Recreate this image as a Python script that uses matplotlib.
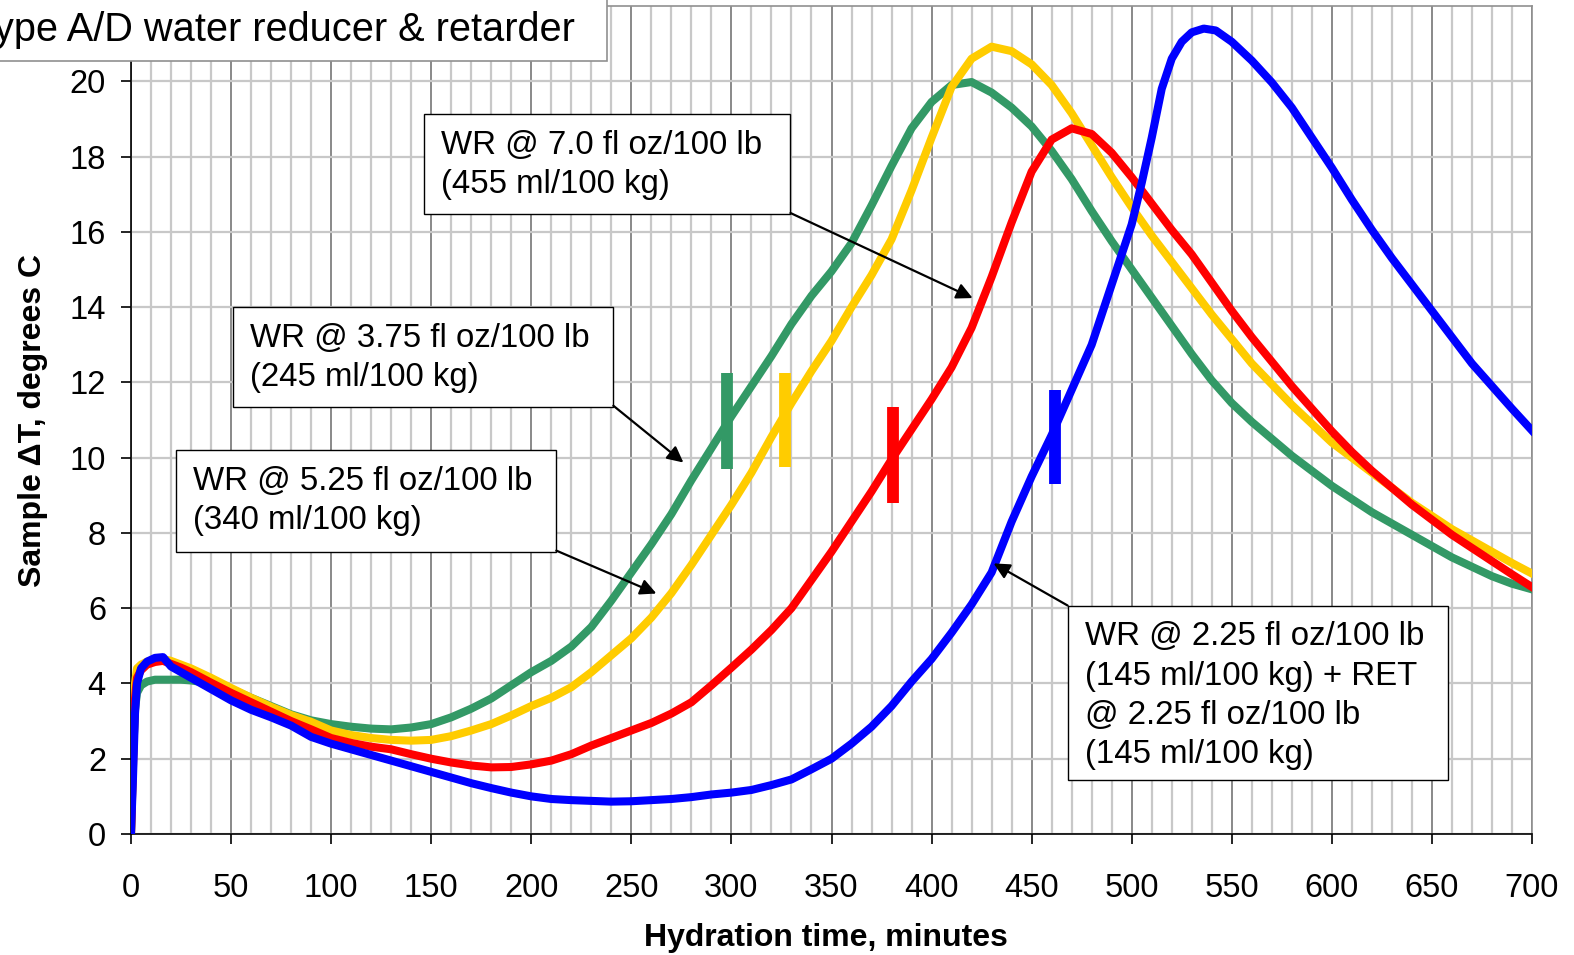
import matplotlib.pyplot as plt
from matplotlib.patches import Rectangle
from matplotlib.ticker import MultipleLocator

plt.rcParams["font.family"] = ["Liberation Sans", "DejaVu Sans"]

# hydration time, minutes (sampling for the three WR-only mixes)
time_min = [0, 1, 2, 3, 5, 8, 12, 16, 20, 25] + list(range(30, 701, 10))
# the WR + RET mix is sampled more finely around its peak
time_ret = ([0, 1, 2, 3, 5, 8, 12, 16, 20, 25] + list(range(30, 501, 10))
            + [505, 510, 515, 520, 525, 530, 536, 542, 550]
            + list(range(560, 701, 10)))

# sample delta T, degrees C
wr_375 = [0, 2.0, 3.3, 3.75, 3.95, 4.05, 4.1, 4.1, 4.1, 4.1,
          4.08, 4.0, 3.85, 3.62, 3.4, 3.18, 3.02, 2.92, 2.85, 2.8,
          2.78, 2.83, 2.92, 3.1, 3.33, 3.6, 3.95, 4.3, 4.6, 4.98,
          5.5, 6.2, 6.95, 7.7, 8.5, 9.4, 10.25, 11.1, 11.9, 12.7,
          13.55, 14.3, 14.95, 15.7, 16.7, 17.75, 18.75, 19.45, 19.9, 19.98,
          19.7, 19.3, 18.8, 18.15, 17.4, 16.55, 15.75, 15.0, 14.25, 13.5,
          12.75, 12.05, 11.45, 10.95, 10.5, 10.05, 9.65, 9.25, 8.9, 8.55,
          8.25, 7.95, 7.65, 7.35, 7.1, 6.85, 6.65, 6.5]
wr_525 = [0, 2.3, 4.0, 4.4, 4.5, 4.58, 4.63, 4.65, 4.6, 4.5,
          4.4, 4.15, 3.88, 3.62, 3.38, 3.16, 2.98, 2.75, 2.63, 2.55,
          2.5, 2.48, 2.5, 2.6, 2.75, 2.92, 3.15, 3.4, 3.62, 3.9,
          4.3, 4.75, 5.2, 5.75, 6.4, 7.15, 7.95, 8.75, 9.6, 10.55,
          11.45, 12.3, 13.1, 14.0, 14.85, 15.8, 17.1, 18.5, 19.85, 20.6,
          20.92, 20.8, 20.45, 19.9, 19.15, 18.3, 17.45, 16.65, 15.9, 15.2,
          14.5, 13.8, 13.15, 12.5, 11.95, 11.4, 10.9, 10.4, 10.0, 9.6,
          9.2, 8.8, 8.45, 8.1, 7.8, 7.5, 7.2, 6.92]
wr_700 = [0, 1.8, 3.6, 4.15, 4.35, 4.5, 4.57, 4.6, 4.52, 4.42,
          4.3, 4.02, 3.75, 3.5, 3.25, 3.0, 2.78, 2.55, 2.42, 2.32,
          2.25, 2.12, 2.0, 1.9, 1.82, 1.77, 1.78, 1.85, 1.95, 2.12,
          2.35, 2.55, 2.75, 2.95, 3.2, 3.5, 3.95, 4.42, 4.9, 5.42,
          6.0, 6.75, 7.5, 8.3, 9.1, 9.95, 10.75, 11.55, 12.4, 13.45,
          14.8, 16.25, 17.6, 18.45, 18.75, 18.6, 18.1, 17.45, 16.75, 16.05,
          15.4, 14.65, 13.9, 13.2, 12.55, 11.9, 11.3, 10.7, 10.15, 9.65,
          9.2, 8.75, 8.35, 7.95, 7.6, 7.25, 6.9, 6.56]
wr_ret = [0, 1.5, 3.2, 4.0, 4.4, 4.58, 4.68, 4.7, 4.45, 4.3,
          4.15, 3.85, 3.55, 3.3, 3.1, 2.88, 2.58, 2.4, 2.25, 2.1,
          1.95, 1.8, 1.65, 1.5, 1.35, 1.22, 1.1, 1.0, 0.93, 0.9,
          0.88, 0.86, 0.87, 0.9, 0.93, 0.98, 1.05, 1.1, 1.17, 1.3,
          1.45, 1.72, 2.0, 2.4, 2.85, 3.4, 4.05, 4.65, 5.35, 6.1,
          6.95, 8.3, 9.5, 10.6, 11.8, 13.0, 14.6, 16.2,
          17.3, 18.5, 19.8, 20.6, 21.05, 21.3, 21.4, 21.35, 21.05,
          20.55, 19.97, 19.3, 18.5, 17.7, 16.85, 16.05, 15.3, 14.6, 13.9,
          13.2, 12.5, 11.9, 11.3, 10.72]

# set markers: time and delta T span of each bar
set_time = [298, 327, 380.5, 461.5]
set_low = [9.7, 9.75, 8.8, 9.3]
set_high = [12.25, 12.25, 11.35, 11.8]

series = [(time_min, wr_375), (time_min, wr_525), (time_min, wr_700), (time_ret, wr_ret)]
colors = ["#339966", "#FFCC00", "#FF0000", "#0000FF"]

labels = [
    "WR @ 3.75 fl oz/100 lb\n(245 ml/100 kg)",
    "WR @ 5.25 fl oz/100 lb\n(340 ml/100 kg)",
    "WR @ 7.0 fl oz/100 lb\n(455 ml/100 kg)",
    "WR @ 2.25 fl oz/100 lb\n(145 ml/100 kg) + RET\n@ 2.25 fl oz/100 lb\n(145 ml/100 kg)",
]

# callout boxes: (x0, x1, y_bottom, y_top), arrow start, arrow tip
callouts = [
    ((51, 241, 11.35, 14.0), (241, 11.38), (276, 9.87)),
    ((22.5, 212.5, 7.5, 10.19), (212.5, 7.53), (262.5, 6.39)),
    ((146.5, 329.5, 16.47, 19.12), (329.5, 16.5), (420.5, 14.24)),
    ((468, 658, 1.43, 6.07), (468, 6.07), (431, 7.19)),
]

fig = plt.figure(figsize=(15.74, 9.55), dpi=100)
ax = fig.add_axes([131 / 1574, 121 / 955, 1401 / 1574, 828 / 955])

ax.set_xlim(0, 700)
ax.set_ylim(0, 22)
ax.set_xticks(range(0, 701, 50))
ax.set_yticks(range(0, 21, 2))
ax.xaxis.set_minor_locator(MultipleLocator(10))

ax.grid(which="minor", axis="x", color="#c8c8c8", linewidth=1.6, zorder=0)
ax.grid(which="major", axis="y", color="#c8c8c8", linewidth=1.6, zorder=0)
ax.grid(which="major", axis="x", color="#808080", linewidth=1.3, zorder=0)
ax.set_axisbelow(True)

for side in ["left", "bottom"]:
    ax.spines[side].set_color("black")
    ax.spines[side].set_linewidth(1.2)
for side in ["top", "right"]:
    ax.spines[side].set_color("#909090")
    ax.spines[side].set_linewidth(1.2)

ax.tick_params(which="major", direction="out", length=7, width=1.2,
               labelsize=23.5, colors="black")
ax.tick_params(axis="x", which="major", pad=21)
ax.tick_params(axis="y", which="major", pad=11)
ax.tick_params(which="minor", length=0)

for (t_vals, values), color, t, lo, hi in zip(series, colors, set_time, set_low, set_high):
    ax.plot(t_vals, values, color=color, linewidth=5.8,
            solid_joinstyle="round", zorder=3)
    ax.vlines(t, lo, hi, color=color, linewidth=8.5, zorder=3)

for label, (box, start, tip) in zip(labels, callouts):
    x0, x1, y0, y1 = box
    ax.add_patch(Rectangle((x0, y0), x1 - x0, y1 - y0, facecolor="white",
                           edgecolor="black", linewidth=1.0, zorder=5))
    ax.text(x0 + 8.5, y1 - 0.42, label, fontsize=23.8, va="top", ha="left",
            linespacing=1.34, zorder=6)
    ax.annotate("", xy=tip, xytext=start, zorder=6,
                arrowprops=dict(arrowstyle="-|>", color="black", lw=1.6,
                                mutation_scale=24, shrinkA=0, shrinkB=0))

ax.set_xlabel("Hydration time, minutes", fontsize=23, fontweight="bold")
ax.set_ylabel("Sample \u0394T, degrees C", fontsize=23, fontweight="bold")
ax.xaxis.set_label_coords(0.496, -0.108)
ax.yaxis.set_label_coords(-0.059, 0.5)

# heading box in the top-left corner
fig.patches.append(Rectangle((-0.01, 1 - 61 / 955), 0.01 + 607 / 1574, 0.08,
                             transform=fig.transFigure, facecolor="white",
                             edgecolor="#909090", linewidth=1.2, zorder=10))
fig.text(575 / 1574, 1 - 30 / 955, "Type A/D water reducer & retarder",
         fontsize=28.6, ha="right", va="center", zorder=11)

fig.savefig("out.png", dpi=100)
